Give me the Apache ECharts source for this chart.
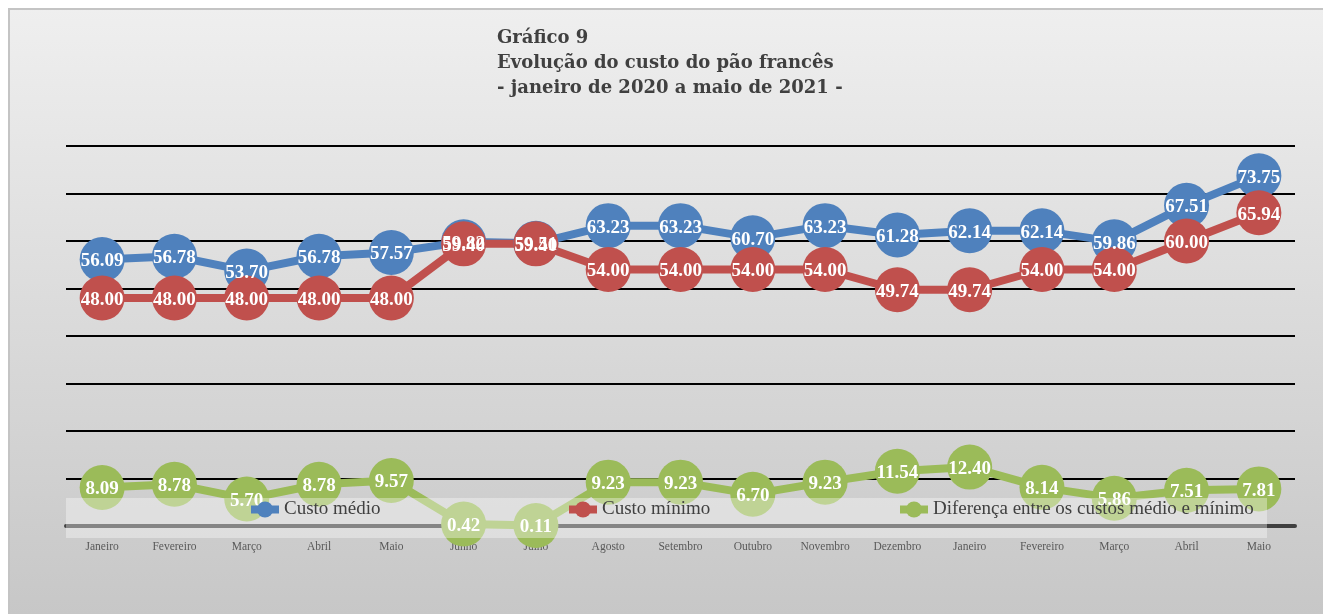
<!DOCTYPE html>
<html>
<head>
<meta charset="utf-8">
<script src="https://cdn.jsdelivr.net/npm/echarts@6/dist/echarts.min.js"></script>
<style>
html,body{margin:0;padding:0;background:#fff;}
#c{width:1323px;height:614px;}
</style>
</head>
<body>
<div id="c"></div>
<script>
const categories = ['Janeiro','Fevereiro','Março','Abril','Maio','Junho','Julho','Agosto','Setembro','Outubro','Novembro','Dezembro','Janeiro','Fevereiro','Março','Abril','Maio'];
const custoMedio = [56.09,56.78,53.70,56.78,57.57,59.82,59.51,63.23,63.23,60.70,63.23,61.28,62.14,62.14,59.86,67.51,73.75];
const custoMinimo = [48.00,48.00,48.00,48.00,48.00,59.40,59.40,54.00,54.00,54.00,54.00,49.74,49.74,54.00,54.00,60.00,65.94];
const diferenca = [8.09,8.78,5.70,8.78,9.57,0.42,0.11,9.23,9.23,6.70,9.23,11.54,12.40,8.14,5.86,7.51,7.81];
const seriesNames = ['Custo médio','Custo mínimo','Diferença entre os custos médio e mínimo'];
const titleLines = ['Gráfico 9','Evolução do custo do pão francês','- janeiro de 2020 a maio de 2021 -'];

const colors = ['#4F81BD','#C0504D','#9BBB59'];
const chart = echarts.init(document.getElementById('c'));

function mkSeries(name, data, color){
  return {
    name: name, type: 'line', data: data,
    symbol: 'circle', symbolSize: 45, showAllSymbol: true,
    lineStyle: {color: color, width: 8},
    itemStyle: {color: color},
    label: {
      show: true, position: 'inside', color: '#fff', offset: [0, 2],
      fontFamily: 'Liberation Serif', fontWeight: 'bold', fontSize: 19,
      formatter: p => Number(p.value).toFixed(2)
    },
    emphasis: {disabled: true}
  };
}

const legendFont = {fontFamily: 'Liberation Serif', fontSize: 19, color: '#404040'};
function mkLegend(name, left){
  return {
    data: [name], left: left, top: 500, padding: 0,
    itemWidth: 28, itemHeight: 20, itemGap: 5,
    lineStyle: {width: 8},
    textStyle: legendFont, z: 8, selectedMode: false
  };
}

chart.setOption({
  animation: false,
  color: colors,
  title: {
    text: titleLines.join('\n'),
    left: 497, top: 26, padding: 0,
    textStyle: {fontFamily: 'DejaVu Serif', fontWeight: 'bold', fontSize: 18, lineHeight: 25, color: '#404040'}
  },
  graphic: [
    {type: 'rect', z: -10, silent: true,
     shape: {x: 9, y: 9, width: 1330, height: 620},
     style: {fill: {type: 'linear', x: 0, y: 0, x2: 0, y2: 1,
       colorStops: [{offset: 0, color: '#efefef'}, {offset: 1, color: '#c6c6c6'}]},
       stroke: '#c4c4c4', lineWidth: 2}},
    {type: 'rect', z: 6, silent: true,
     shape: {x: 66, y: 498, width: 1201, height: 40},
     style: {fill: 'rgba(255,255,255,0.36)'}}
  ],
  legend: [
    mkLegend(seriesNames[0], 247),
    mkLegend(seriesNames[1], 565),
    mkLegend(seriesNames[2], 896)
  ],
  grid: {left: 66, right: 28, top: 146, bottom: 88},
  xAxis: {
    type: 'category', data: categories, boundaryGap: true, z: 3,
    axisLine: {lineStyle: {color: '#404040', width: 4}},
    axisTick: {show: false},
    axisLabel: {interval: 0, margin: 15, fontFamily: 'Liberation Serif', fontSize: 11.5, color: '#595959'}
  },
  yAxis: {
    type: 'value', min: 0, max: 80, interval: 10, z: 0,
    axisLabel: {show: false}, axisLine: {show: false}, axisTick: {show: false},
    splitLine: {lineStyle: {color: '#000', width: 2}}
  },
  series: [
    mkSeries(seriesNames[0], custoMedio, colors[0]),
    mkSeries(seriesNames[1], custoMinimo, colors[1]),
    mkSeries(seriesNames[2], diferenca, colors[2])
  ]
});
</script>
</body>
</html>
